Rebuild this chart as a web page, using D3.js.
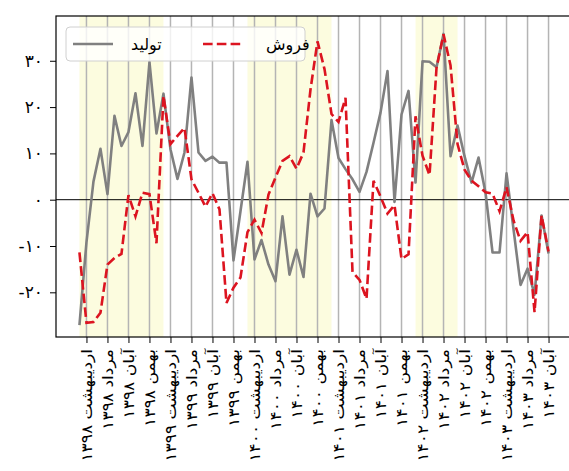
<!DOCTYPE html>
<html><head><meta charset="utf-8">
<script src="https://cdn.jsdelivr.net/npm/d3@7"></script>
<style>body{margin:0;background:#fff} svg{display:block}</style>
</head><body>
<svg id="c" width="569" height="471"></svg>
<script>
// monthly index 0 = فروردین ۱۳۹۸ ... 67 = آبان ۱۴۰۳
const production = [-27.1,-9.2,3.9,11.0,1.2,18.1,11.6,14.6,23.0,11.6,29.7,14.3,
  22.9,10.9,4.5,10.2,26.4,10.2,8.4,9.3,8.0,8.0,-13.1,-2.5,
  8.2,-12.9,-8.7,-14.0,-17.6,-3.6,-16.2,-10.8,-16.7,1.3,-3.6,-1.9,
  17.2,9.0,6.6,4.4,1.7,6.0,12.3,18.8,27.8,-0.5,18.4,23.5,
  3.7,29.9,29.8,28.6,35.8,9.4,16.0,9.4,3.7,9.1,1.5,-11.4,
  -11.4,5.7,-6.4,-18.4,-14.9,-20.5,-3.4,-11.6];
const sales = [-11.4,-26.6,-26.4,-24.4,-14.0,-12.6,-11.7,1.0,-3.6,1.5,1.2,-9.4,
  22.4,12.0,13.8,15.5,4.4,1.5,-1.5,1.4,-2.1,-22.3,-19.0,-16.8,
  -7.0,-4.3,-7.2,1.1,4.8,8.4,9.4,6.7,10.2,23.8,34.2,28.2,
  18.5,16.8,22.0,-15.6,-17.3,-21.4,4.1,0.7,-3.0,-1.2,-12.8,-11.8,
  18.0,9.5,5.3,28.5,35.7,29.0,12.0,6.5,4.1,2.9,1.6,1.3,
  -2.5,2.7,-4.5,-8.9,-7.0,-24.3,-3.4,-11.2];
const seriesNames = ["تولید","فروش"];
const tickIndex = [1,4,7,10,13,16,19,22,25,28,31,34,37,40,43,46,49,52,55,58,61,64,67];
const tickLabels = ["اردیبهشت ۱۳۹۸","مرداد ۱۳۹۸","آبان ۱۳۹۸","بهمن ۱۳۹۸",
  "اردیبهشت ۱۳۹۹","مرداد ۱۳۹۹","آبان ۱۳۹۹","بهمن ۱۳۹۹",
  "اردیبهشت ۱۴۰۰","مرداد ۱۴۰۰","آبان ۱۴۰۰","بهمن ۱۴۰۰",
  "اردیبهشت ۱۴۰۱","مرداد ۱۴۰۱","آبان ۱۴۰۱","بهمن ۱۴۰۱",
  "اردیبهشت ۱۴۰۲","مرداد ۱۴۰۲","آبان ۱۴۰۲","بهمن ۱۴۰۲",
  "اردیبهشت ۱۴۰۳","مرداد ۱۴۰۳","آبان ۱۴۰۳"];
const yTicks = [-20,-10,0,10,20,30];
const yTickLabels = ["-۲۰","-۱۰","۰","۱۰","۲۰","۳۰"];
const bandStart = [0,24,48];
const bandEnd = [12,36,54];

const FONT = "'DejaVu Sans', sans-serif";
const svg = d3.select("#c");
const L = 56, T = 16, R = 572, B = 337;
const x = d3.scaleLinear().domain([-3.35, 70.35]).range([L, R]);
const y = d3.scaleLinear().domain([-29.65, 39.67]).range([B, T]);

svg.append("defs").append("clipPath").attr("id","clip")
  .append("rect").attr("x",L).attr("y",T).attr("width",R-L).attr("height",B-T);

const plot = svg.append("g").attr("clip-path","url(#clip)");
plot.selectAll("rect.band").data(bandStart).join("rect").attr("class","band")
  .attr("x", d => x(d)).attr("width", (d,i) => x(bandEnd[i]) - x(d))
  .attr("y", T).attr("height", B - T).attr("fill", "#fcfcdf");
plot.selectAll("line.grid").data(tickIndex).join("line").attr("class","grid")
  .attr("x1", d => x(d)).attr("x2", d => x(d)).attr("y1", T).attr("y2", B)
  .attr("stroke", "#b4b4b4").attr("stroke-width", 1.5);
plot.append("line").attr("x1",L).attr("x2",R).attr("y1",y(0)).attr("y2",y(0))
  .attr("stroke","#000").attr("stroke-width",1);

const line = d3.line().x((d,i) => x(i)).y(d => y(d));
plot.append("path").datum(production).attr("d", line).attr("fill","none")
  .attr("stroke","#808080").attr("stroke-width",2.6).attr("stroke-linejoin","round");
plot.append("path").datum(sales).attr("d", line).attr("fill","none")
  .attr("stroke","#dc1420").attr("stroke-width",2.6).attr("stroke-dasharray","9.6,4.2");

const yAxis = svg.append("g").attr("transform",`translate(${L},0)`)
  .call(d3.axisLeft(y).tickValues(yTicks).tickFormat((d,i)=>yTickLabels[i]).tickSize(6).tickPadding(7));
yAxis.select(".domain").remove();
yAxis.selectAll("text").attr("font-family",FONT).attr("font-size",17).attr("fill","#000");
yAxis.selectAll("line").attr("stroke","#000");

const stretch = 1.14;
const xAxis = svg.append("g").attr("transform",`translate(0,${B})`)
  .call(d3.axisBottom(x).tickValues(tickIndex).tickFormat((d,i)=>tickLabels[i]).tickSize(6));
xAxis.select(".domain").remove();
xAxis.selectAll("line").attr("stroke","#000");
xAxis.selectAll("text").attr("font-family",FONT).attr("font-size",15).attr("fill","#000")
  .attr("transform",`rotate(-90) scale(${stretch},1)`).attr("text-anchor","end")
  .attr("x",-12/stretch).attr("y",0).attr("dy","0.35em");

svg.append("rect").attr("x",L).attr("y",T).attr("width",R-L).attr("height",B-T)
  .attr("fill","none").attr("stroke","#000").attr("stroke-width",1.2);

const lg = svg.append("g");
lg.append("rect").attr("x",66).attr("y",27).attr("width",239).attr("height",34).attr("rx",4)
  .attr("fill","#fff").attr("fill-opacity",0.8).attr("stroke","#d0d0d0");
const items = [{name: seriesNames[0], color:"#808080", dash:null, lx:73, tx:131},
               {name: seriesNames[1], color:"#dc1420", dash:"9.6,4.2", lx:203, tx:266}];
items.forEach(it => {
  lg.append("line").attr("x1",it.lx).attr("x2",it.lx+40).attr("y1",44).attr("y2",44)
    .attr("stroke",it.color).attr("stroke-width",2.6).attr("stroke-dasharray",it.dash);
  lg.append("text").attr("x",it.tx).attr("y",50).text(it.name)
    .attr("font-family",FONT).attr("font-size",16).attr("fill","#000");
});
</script>
</body></html>
